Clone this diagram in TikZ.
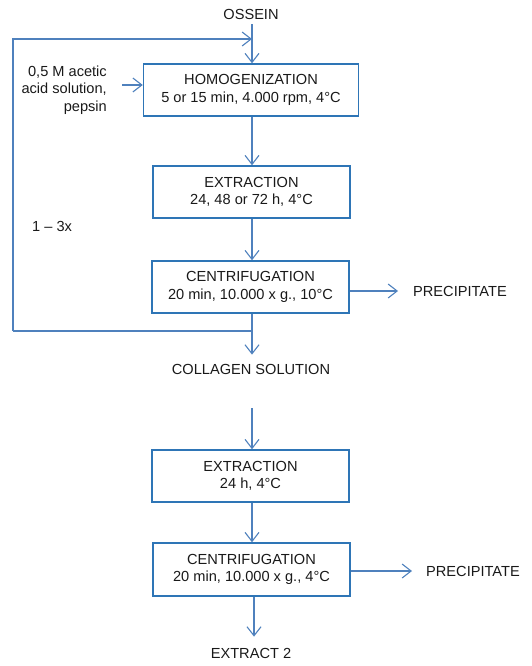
\documentclass[tikz,border=0pt]{standalone}
\usepackage{fontspec}
\setmainfont{Liberation Sans}
\usetikzlibrary{arrows.meta,calc}
\definecolor{boxblue}{RGB}{46,117,182}
\definecolor{lineblue}{RGB}{79,129,189}
\begin{document}
\begin{tikzpicture}[x=1pt,y=-1pt,
  font=\fontsize{14.6}{17.5}\selectfont, text=black!90,
  box/.style={draw=boxblue,line width=1.5pt,minimum height=52pt,align=center,inner sep=0pt},
  conn/.style={draw=lineblue,line width=1.1pt},
  arr/.style={conn,-{Straight Barb[length=9pt,width=14pt,line width=1.1pt]}},
  lbl/.style={inner sep=0pt,align=center}]
\useasboundingbox (0,0) rectangle (532,666);

% nodes
\node[lbl,inner ysep=5pt] (ossein) at (251,14) {OSSEIN};
\node[box,minimum width=215pt] (homog) at (251,90) {HOMOGENIZATION\\5 or 15 min, 4.000 rpm, 4°C};
\node[box,minimum width=197pt] (ext1) at (251.5,192) {EXTRACTION\\24, 48 or 72 h, 4°C};
\node[box,minimum width=197pt] (cent1) at (250.5,287) {CENTRIFUGATION\\20 min, 10.000 x g., 10°C};
\node[lbl,inner ysep=9pt] (coll) at (251,369) {COLLAGEN SOLUTION};
\node[lbl,align=right,inner xsep=15pt,anchor=east] (acid) at (122,90) {0,5 M acetic\\acid solution,\\pepsin};
\node[lbl,anchor=west] (times) at (32,226) {1 – 3x};
\node[lbl,inner xsep=15pt,anchor=west] (prec1) at (398,291) {PRECIPITATE};

\node[box,minimum width=197pt] (ext2) at (250.5,476) {EXTRACTION\\24 h, 4°C};
\node[box,minimum width=197pt,minimum height=53pt] (cent2) at (251.5,569.5) {CENTRIFUGATION\\20 min, 10.000 x g., 4°C};
\node[lbl,inner xsep=14pt,anchor=west] (prec2) at (412,571) {PRECIPITATE};
\node[lbl,inner ysep=11pt] (ext3) at (251,653) {EXTRACT 2};

% coordinates
\coordinate (lt) at (252,39);
\coordinate (lb) at (252,331);
\coordinate (lc) at (13,331);
\coordinate (st2) at (252,408);

% connectors
\draw[arr] (ossein.south -| lt) -- (homog.north -| lt);
\draw[conn] (lb) -- (lc);
\draw[arr] (lc) |- (lt);
\draw[arr] ([yshift=5pt]acid.east) -- ([yshift=5pt]homog.west);
\draw[arr] (homog.south -| lt) -- (ext1.north -| lt);
\draw[arr] (ext1.south -| lt) -- (cent1.north -| lt);
\draw[arr] (cent1.east |- prec1.west) -- (prec1.west);
\draw[arr] (cent1.south -| lt) -- (coll.north -| lt);

\draw[arr] (st2) -- (ext2.north -| st2);
\draw[arr] (ext2.south -| st2) -- (cent2.north -| st2);
\draw[arr] (cent2.east |- prec2.west) -- (prec2.west);
\draw[arr] (cent2.south -| st2) ++(2,0) -- (ext3.north -| 254,0);
\end{tikzpicture}
\end{document}
